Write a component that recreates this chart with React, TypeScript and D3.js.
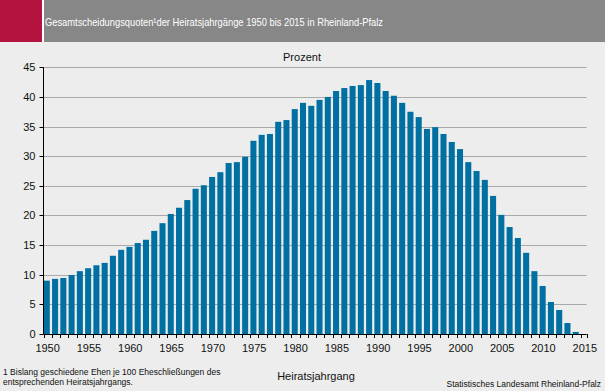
import * as d3 from 'd3';
import React, { useEffect, useRef } from 'react';

const years: number[] = d3.range(1950, 2016);

// Gesamtscheidungsquoten in Prozent (2015 has no bar)
const quotes: number[] = [
  9.0, 9.3, 9.45, 9.95, 10.6, 11.1, 11.6, 12.0, 13.2, 14.2,
  14.7, 15.35, 15.9, 17.4, 18.7, 20.25, 21.3, 22.6, 24.5, 25.1,
  26.5, 27.3, 28.85, 29.0, 29.9, 32.6, 33.6, 33.75, 35.8, 36.1,
  37.95, 39.0, 38.5, 39.5, 40.0, 41.0, 41.5, 41.85, 42.0, 42.85,
  42.35, 41.0, 40.2, 39.0, 37.5, 36.6, 34.6, 34.9, 33.75, 32.4,
  31.2, 29.0, 27.5, 26.0, 23.3, 20.1, 18.05, 16.2, 13.7, 10.6,
  8.1, 5.4, 4.05, 1.85, 0.35, 0,
];

const yTicks: number[] = [0, 5, 10, 15, 20, 25, 30, 35, 40, 45];
const xLabels: number[] = [1950, 1955, 1960, 1965, 1970, 1975, 1980, 1985, 1990, 1995, 2000, 2005, 2010, 2015];

const title = 'Gesamtscheidungsquoten\u00b9der Heiratsjahrgänge 1950 bis 2015 in Rheinland-Pfalz';
const footnote = ['1 Bislang geschiedene Ehen je 100 Eheschließungen des', 'entsprechenden Heiratsjahrgangs.'];
const source = 'Statistisches Landesamt Rheinland-Pfalz';

const W = 605;
const H = 391;
const FONT = 'Liberation Sans, Arial, sans-serif';

const DivorceChart: React.FC = () => {
  const ref = useRef<HTMLDivElement>(null);

  useEffect(() => {
    document.body.style.margin = '0';

    const left = 43.5;
    const right = 586.7;
    const top = 67.3;
    const bottom = 334;

    const x = d3.scaleBand<number>().domain(years).range([left, right]).paddingInner(0.27).paddingOuter(0);
    const y = d3.scaleLinear().domain([0, 45]).range([bottom, top]);
    const step = x.step();

    const svg = d3
      .create('svg')
      .attr('width', W)
      .attr('height', H)
      .attr('viewBox', [0, 0, W, H])
      .style('display', 'block')
      .style('font-family', FONT);

    // background + header
    svg.append('rect').attr('width', W).attr('height', H).attr('fill', '#ecedec');
    svg.append('rect').attr('width', W).attr('height', 42).attr('fill', '#ffffff');
    svg.append('rect').attr('width', 42).attr('height', 42).attr('fill', '#b5133f');
    svg.append('rect').attr('x', 44).attr('width', W - 44).attr('height', 42).attr('fill', '#878787');
    svg
      .append('text')
      .attr('x', 45)
      .attr('y', 25.5)
      .attr('fill', '#fff')
      .attr('font-size', 10.5)
      .attr('textLength', 338)
      .attr('lengthAdjust', 'spacingAndGlyphs')
      .text(title);

    // grid lines
    svg
      .append('g')
      .selectAll('line')
      .data(yTicks.filter(d => d > 0))
      .join('line')
      .attr('x1', left)
      .attr('x2', right)
      .attr('y1', d => Math.round(y(d)) + 0.5)
      .attr('y2', d => Math.round(y(d)) + 0.5)
      .attr('stroke', '#a9a9a9')
      .attr('stroke-width', 1);

    // bars
    svg
      .append('g')
      .selectAll('rect')
      .data(years.map((yr, i) => ({ yr, v: quotes[i] })).filter(d => d.v > 0))
      .join('rect')
      .attr('x', d => x(d.yr)! + 0.3)
      .attr('y', d => y(d.v))
      .attr('width', x.bandwidth())
      .attr('height', d => y(0) - y(d.v))
      .attr('fill', '#0070a2');

    // y axis
    const gy = svg.append('g');
    gy.append('line')
      .attr('x1', left).attr('x2', left)
      .attr('y1', top).attr('y2', bottom)
      .attr('stroke', '#000');
    gy.selectAll('line.tick')
      .data(yTicks)
      .join('line')
      .attr('class', 'tick')
      .attr('x1', left - 4).attr('x2', left)
      .attr('y1', d => Math.round(y(d)) + 0.5)
      .attr('y2', d => Math.round(y(d)) + 0.5)
      .attr('stroke', '#000');
    gy.selectAll('text')
      .data(yTicks)
      .join('text')
      .attr('x', left - 8)
      .attr('y', d => y(d) + 4)
      .attr('text-anchor', 'end')
      .attr('font-size', 11)
      .attr('fill', '#111')
      .text(d => d);

    // x axis
    const gx = svg.append('g');
    gx.append('line')
      .attr('x1', left).attr('x2', right)
      .attr('y1', bottom + 0.5).attr('y2', bottom + 0.5)
      .attr('stroke', '#000');
    gx.selectAll('line.tick')
      .data([...years.map(d => x(d)!), right])
      .join('line')
      .attr('class', 'tick')
      .attr('x1', d => Math.round(d) + 0.5).attr('x2', d => Math.round(d) + 0.5)
      .attr('y1', bottom).attr('y2', bottom + 4)
      .attr('stroke', '#000');
    gx.selectAll('text')
      .data(xLabels)
      .join('text')
      .attr('x', d => x(d)! + step / 2)
      .attr('y', bottom + 18)
      .attr('text-anchor', 'middle')
      .attr('font-size', 11)
      .attr('fill', '#111')
      .text(d => d);

    // titles and notes
    svg.append('text')
      .attr('x', 302).attr('y', 61)
      .attr('text-anchor', 'middle')
      .attr('font-size', 11)
      .attr('fill', '#111')
      .text('Prozent');
    svg.append('text')
      .attr('x', 316).attr('y', 380)
      .attr('text-anchor', 'middle')
      .attr('font-size', 11)
      .attr('fill', '#111')
      .text('Heiratsjahrgang');
    svg.append('g')
      .selectAll('text')
      .data(footnote)
      .join('text')
      .attr('x', 3)
      .attr('y', (_, i) => 375 + i * 10)
      .attr('font-size', 8.5)
      .attr('fill', '#111')
      .text(d => d);
    svg.append('text')
      .attr('x', 601).attr('y', 387)
      .attr('text-anchor', 'end')
      .attr('font-size', 8.5)
      .attr('fill', '#111')
      .text(source);

    d3.select(ref.current).html('');
    d3.select(ref.current).append(() => svg.node());
  }, []);

  return <div ref={ref}></div>;
};

export default function App() {
  return <DivorceChart />;
}
